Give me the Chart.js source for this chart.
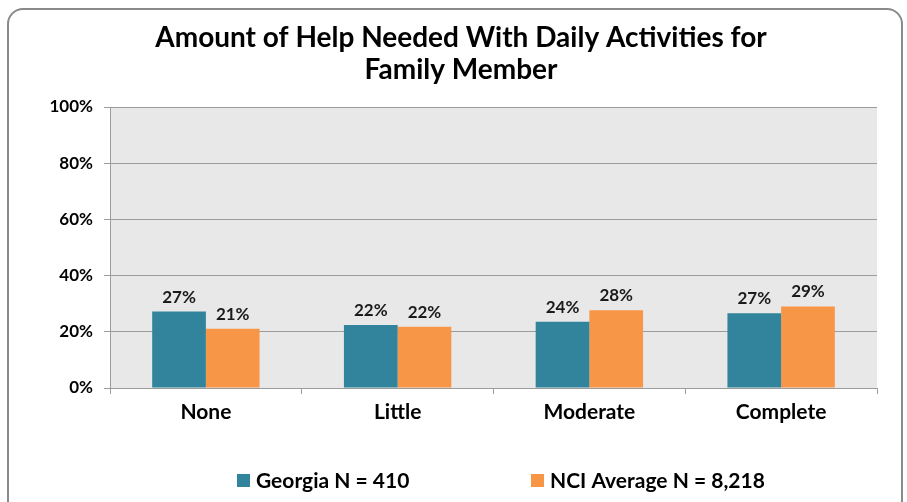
<!DOCTYPE html>
<html>
<head>
<meta charset="utf-8">
<script src="https://cdn.jsdelivr.net/npm/chart.js@4/dist/chart.umd.min.js"></script>
<style>
  html, body { margin: 0; padding: 0; background: #fff; overflow: hidden; }
  #wrap { position: relative; width: 907px; height: 502px; }
  #frame {
    position: absolute; left: 7px; top: 8px; width: 896px; height: 530px;
    border: 2px solid #8a8a8a; border-radius: 16px; box-sizing: border-box;
  }
  canvas { position: absolute; left: 0; top: 0; }
</style>
</head>
<body>
<div id="wrap">
  <div id="frame"></div>
  <canvas id="helpChart" width="907" height="502"></canvas>
</div>
<script>
const categories = ["None", "Little", "Moderate", "Complete"];
const georgia = [27.2, 22.4, 23.6, 26.6];
const nciAverage = [21.1, 21.8, 27.7, 29.0];
const georgiaLabels = ["27%", "22%", "24%", "27%"];
const nciLabels = ["21%", "22%", "28%", "29%"];
const seriesNames = ["Georgia N = 410", "NCI Average N = 8,218"];
const titleLines = ["Amount of Help Needed With Daily Activities for", "Family Member"];

const FONT = "Lato, 'Open Sans', sans-serif";

// gray plot background
const plotBg = {
  id: "plotBg",
  beforeDraw(chart) {
    const { ctx, chartArea: a } = chart;
    ctx.save();
    ctx.fillStyle = "#e8e8e8";
    ctx.fillRect(a.left, a.top, a.right - a.left, a.bottom - a.top);
    ctx.restore();
  }
};

// title sits a little right of the canvas centre, like the original
const topTitle = {
  id: "topTitle",
  afterDraw(chart) {
    const { ctx } = chart;
    ctx.save();
    ctx.font = "bold 28px " + FONT;
    ctx.fillStyle = "#000";
    ctx.textAlign = "center";
    ctx.textBaseline = "middle";
    titleLines.forEach((line, i) => ctx.fillText(line, 461, 38 + i * 32));
    ctx.restore();
  }
};

// value labels above bars
const barLabels = {
  id: "barLabels",
  afterDatasetsDraw(chart) {
    const { ctx } = chart;
    const texts = [georgiaLabels, nciLabels];
    ctx.save();
    ctx.font = "bold 17px " + FONT;
    ctx.fillStyle = "#1a1a1a";
    ctx.textAlign = "center";
    ctx.textBaseline = "bottom";
    chart.data.datasets.forEach((ds, i) => {
      chart.getDatasetMeta(i).data.forEach((bar, j) => {
        ctx.fillText(texts[i][j], bar.x, bar.y - 6);
      });
    });
    ctx.restore();
  }
};

// legend at the bottom, wide gap between the two entries
const bottomLegend = {
  id: "bottomLegend",
  afterDraw(chart) {
    const { ctx } = chart;
    const starts = [237, 531];
    const y = chart.height - 21;
    ctx.save();
    ctx.font = "bold 21px " + FONT;
    ctx.textBaseline = "middle";
    chart.data.datasets.forEach((ds, i) => {
      ctx.fillStyle = ds.backgroundColor;
      ctx.fillRect(starts[i], y - 7, 13, 13);
      ctx.fillStyle = "#000";
      ctx.fillText(ds.label, starts[i] + 19, y);
    });
    ctx.restore();
  }
};

new Chart(document.getElementById("helpChart").getContext("2d"), {
  type: "bar",
  data: {
    labels: categories,
    datasets: [
      { label: seriesNames[0], data: georgia, backgroundColor: "#31849b", barPercentage: 1, categoryPercentage: 0.56 },
      { label: seriesNames[1], data: nciAverage, backgroundColor: "#f79646", barPercentage: 1, categoryPercentage: 0.56 }
    ]
  },
  options: {
    responsive: false,
    animation: false,
    layout: { padding: { left: 10, right: 30, top: 107, bottom: 66 } },
    plugins: {
      title: { display: false },
      legend: { display: false },
      tooltip: { enabled: false }
    },
    scales: {
      y: {
        min: 0,
        max: 100,
        afterFit: s => { s.width = 100; },
        ticks: {
          stepSize: 20,
          callback: v => v + "%",
          font: { family: FONT, size: 17, weight: "bold" },
          color: "#000",
          padding: 11
        },
        grid: { color: "#9c9c9c", lineWidth: 1, tickLength: 6 },
        border: { color: "#9c9c9c" }
      },
      x: {
        afterFit: s => { s.height = 48; },
        ticks: {
          font: { family: FONT, size: 21, weight: "bold" },
          color: "#000",
          padding: 6
        },
        grid: { drawOnChartArea: false, color: "#9c9c9c", tickLength: 6, offset: true },
        border: { color: "#9c9c9c" }
      }
    }
  },
  plugins: [plotBg, topTitle, barLabels, bottomLegend]
});
</script>
</body>
</html>
